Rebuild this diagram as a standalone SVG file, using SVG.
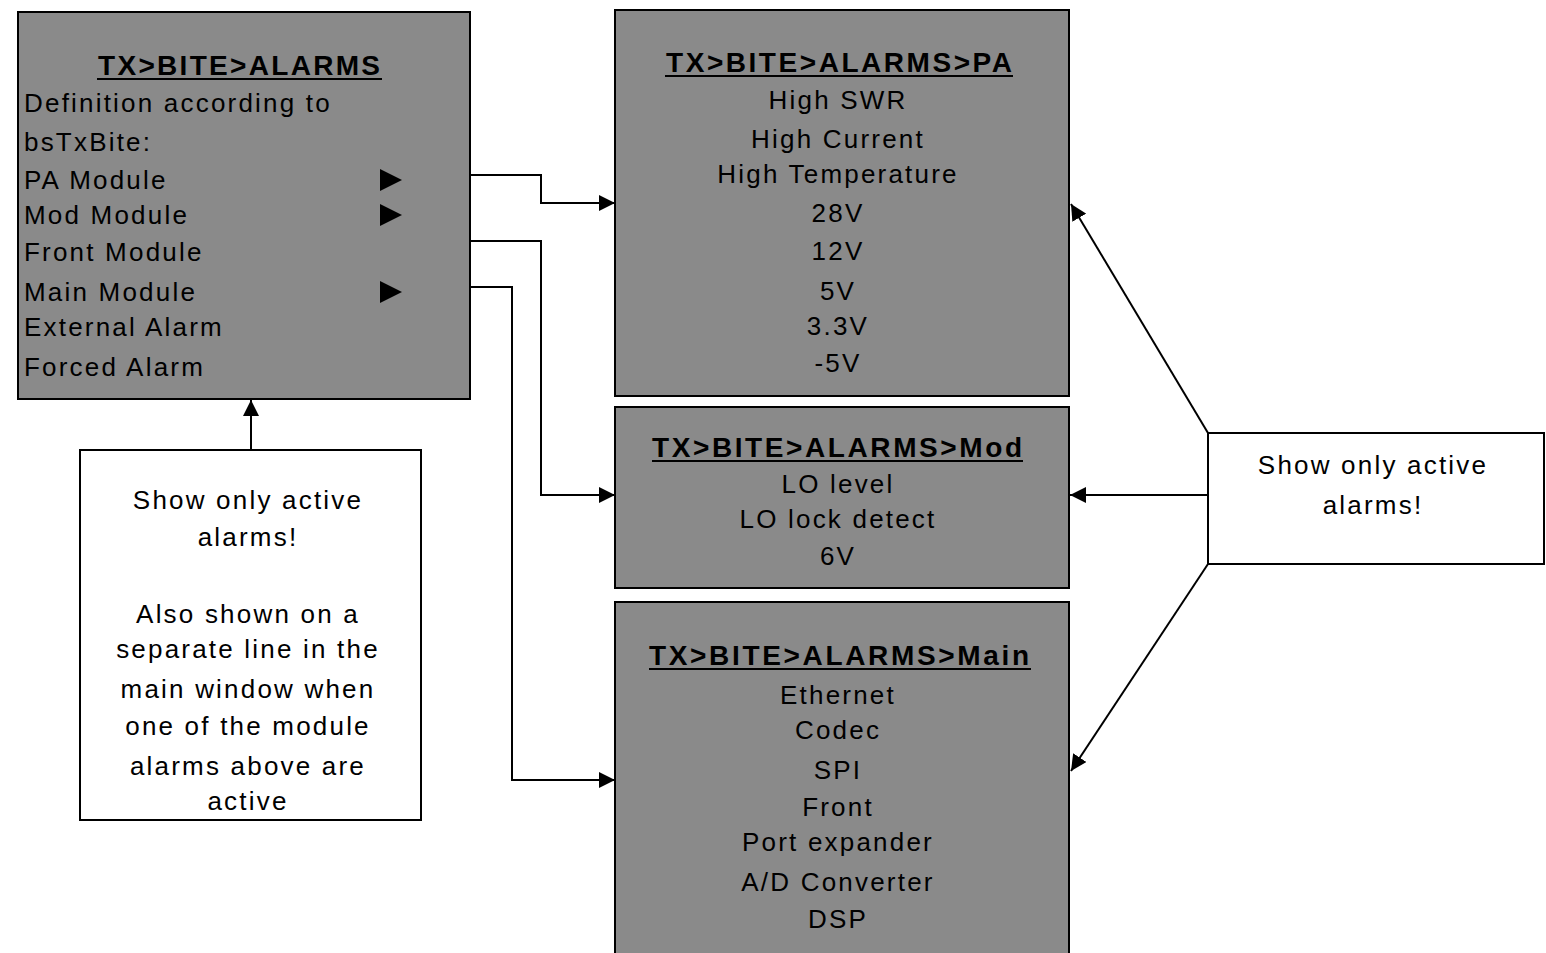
<svg xmlns="http://www.w3.org/2000/svg" width="1546" height="953" viewBox="0 0 1546 953">
<defs>
<style>
.box{fill:#8a8a8a;stroke:#000;stroke-width:2}
.note{fill:#fff;stroke:#000;stroke-width:2}
.t{font-family:"Liberation Sans",Arial,sans-serif;font-size:26px;letter-spacing:2.2px;fill:#000}
.c{text-anchor:middle}
.h{font-family:"Liberation Sans",Arial,sans-serif;font-size:28px;font-weight:bold;fill:#000;text-anchor:middle}
.u{stroke:#000;stroke-width:2}
.con{fill:none;stroke:#000;stroke-width:2}
</style>
<marker id="arr" viewBox="0 0 16 16" refX="16" refY="8" markerWidth="16" markerHeight="16" markerUnits="userSpaceOnUse" orient="auto">
<path d="M0,0 L16,8 L0,16 z" fill="#000"/>
</marker>
</defs>

<g id="connectors">
<polyline class="con" points="470,175 541,175 541,203 615,203" marker-end="url(#arr)"/>
<polyline class="con" points="470,241 541,241 541,495 615,495" marker-end="url(#arr)"/>
<polyline class="con" points="470,287 512,287 512,780 615,780" marker-end="url(#arr)"/>
<line class="con" x1="251" y1="450" x2="251" y2="400" marker-end="url(#arr)"/>
<line class="con" x1="1208" y1="433" x2="1071" y2="204" marker-end="url(#arr)"/>
<line class="con" x1="1208" y1="495" x2="1070" y2="495" marker-end="url(#arr)"/>
<line class="con" x1="1208" y1="564" x2="1071" y2="771" marker-end="url(#arr)"/>
</g>

<g id="alarms">
<rect class="box" x="18" y="12" width="452" height="387"/>
<text class="h" x="239" y="75" textLength="282" lengthAdjust="spacing">TX&gt;BITE&gt;ALARMS</text>
<line class="u" x1="97" y1="79" x2="382" y2="79"/>
<text class="t" x="24" y="112">Definition according to</text>
<text class="t" x="24" y="151">bsTxBite:</text>
<text class="t" x="24" y="189">PA Module</text>
<text class="t" x="24" y="224">Mod Module</text>
<text class="t" x="24" y="261">Front Module</text>
<text class="t" x="24" y="301">Main Module</text>
<text class="t" x="24" y="336">External Alarm</text>
<text class="t" x="24" y="376">Forced Alarm</text>
<polygon points="380,169 380,191 402,180" fill="#000"/>
<polygon points="380,204 380,226 402,215" fill="#000"/>
<polygon points="380,281 380,303 402,292" fill="#000"/>
</g>

<g id="pa">
<rect class="box" x="615" y="10" width="454" height="386"/>
<text class="h" x="839" y="72" textLength="346" lengthAdjust="spacing">TX&gt;BITE&gt;ALARMS&gt;PA</text>
<line class="u" x1="665" y1="76" x2="1013" y2="76"/>
<text class="t c" x="838" y="109">High SWR</text>
<text class="t c" x="838" y="148">High Current</text>
<text class="t c" x="838" y="183">High Temperature</text>
<text class="t c" x="838" y="222">28V</text>
<text class="t c" x="838" y="260">12V</text>
<text class="t c" x="838" y="300">5V</text>
<text class="t c" x="838" y="335">3.3V</text>
<text class="t c" x="838" y="372">-5V</text>
</g>

<g id="mod">
<rect class="box" x="615" y="407" width="454" height="181"/>
<text class="h" x="837" y="457" textLength="370" lengthAdjust="spacing">TX&gt;BITE&gt;ALARMS&gt;Mod</text>
<line class="u" x1="652" y1="461" x2="1023" y2="461"/>
<text class="t c" x="838" y="493">LO level</text>
<text class="t c" x="838" y="528">LO lock detect</text>
<text class="t c" x="838" y="565">6V</text>
</g>

<g id="main">
<rect class="box" x="615" y="602" width="454" height="360"/>
<text class="h" x="839" y="665" textLength="380" lengthAdjust="spacing">TX&gt;BITE&gt;ALARMS&gt;Main</text>
<line class="u" x1="649" y1="669" x2="1031" y2="669"/>
<text class="t c" x="838" y="704">Ethernet</text>
<text class="t c" x="838" y="739">Codec</text>
<text class="t c" x="838" y="779">SPI</text>
<text class="t c" x="838" y="816">Front</text>
<text class="t c" x="838" y="851">Port expander</text>
<text class="t c" x="838" y="891">A/D Converter</text>
<text class="t c" x="838" y="928">DSP</text>
</g>

<g id="note-left">
<rect class="note" x="80" y="450" width="341" height="370"/>
<text class="t c" x="248" y="509">Show only active</text>
<text class="t c" x="248" y="546">alarms!</text>
<text class="t c" x="248" y="623">Also shown on a</text>
<text class="t c" x="248" y="658">separate line in the</text>
<text class="t c" x="248" y="698">main window when</text>
<text class="t c" x="248" y="735">one of the module</text>
<text class="t c" x="248" y="775">alarms above are</text>
<text class="t c" x="248" y="810">active</text>
</g>

<g id="note-right">
<rect class="note" x="1208" y="433" width="336" height="131"/>
<text class="t c" x="1373" y="474">Show only active</text>
<text class="t c" x="1373" y="514">alarms!</text>
</g>
</svg>
